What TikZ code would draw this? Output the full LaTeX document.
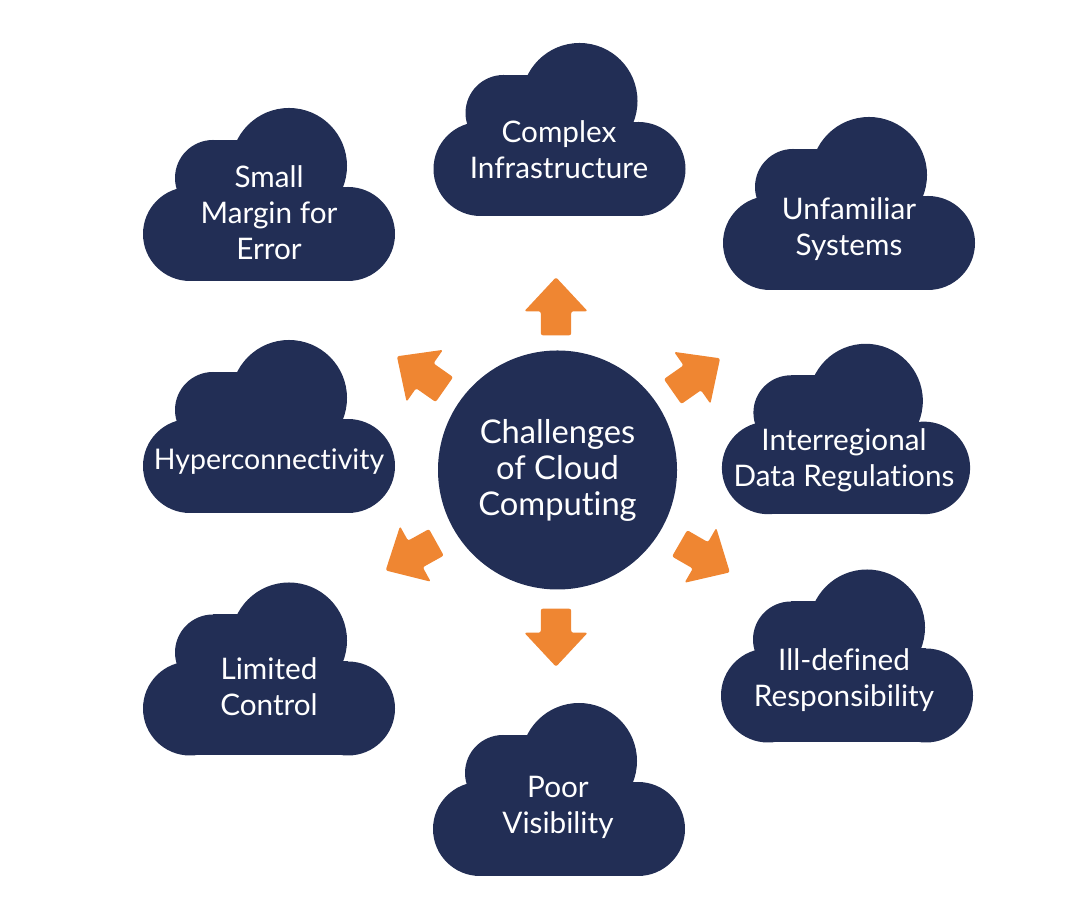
\documentclass[tikz,border=0pt]{standalone}
\usepackage{fontspec}
\setmainfont{Lato}[Ligatures=CommonOff]
\usetikzlibrary{shapes.arrows}
\definecolor{cloudnavy}{HTML}{222E55}
\definecolor{arroworange}{HTML}{EF8632}
\tikzset{
  cloudshape/.pic={
    \fill [cloudnavy] (-0.79,-0.395) circle (0.47);
    \fill [cloudnavy] (0.79,-0.395) circle (0.47);
    \fill [cloudnavy] (0.20,0.285) circle (0.58);
    \fill [cloudnavy] (-0.56,0.165) circle (0.38);
    \fill [cloudnavy] (-0.56,0.165) rectangle (-0.31,0.545);
    \fill [cloudnavy] (-0.79,-0.865) rectangle (0.79,0.075);
  },
  cloudtext/.style={text=white, align=center, inner sep=0pt, font=\fontsize{8.45}{10.24}\selectfont},
  hubnode/.style={circle, fill=cloudnavy, minimum size=2.39cm, inner sep=0pt, text=white, align=center, font=\fontsize{9.3}{10.24}\selectfont},
  blockarrow/.style={single arrow, fill=arroworange, inner xsep=0pt, inner ysep=0.145cm, minimum height=0.58cm, anchor=tail,
    single arrow head extend=0.165cm, single arrow tip angle=86, rounded corners=0.6pt},
}
\begin{document}
\begin{tikzpicture}
    \useasboundingbox (0,0) rectangle (10.8,9.01);

    \pic (cloudsmall) at (2.69,7.065) {cloudshape};
    \pic (cloudcomplex) at (5.595,7.715) {cloudshape};
    \pic (cloudunfamiliar) at (8.49,6.975) {cloudshape};
    \pic[scale=0.985] (cloudregions) at (8.46,4.72) {cloudshape};
    \pic (cloudhyper) at (2.69,4.745) {cloudshape};
    \pic (cloudill) at (8.47,2.45) {cloudshape};
    \pic (cloudlimited) at (2.69,2.32) {cloudshape};
    \pic (cloudpoor) at (5.59,1.115) {cloudshape};

    \node [cloudtext] (small) at (2.69,6.88) {Small\\Margin for\\Error};
    \node [cloudtext] (complex) at (5.59,7.515) {Complex\\Infrastructure};
    \node [cloudtext] (unfamiliar) at (8.49,6.72) {Unfamiliar\\Systems};
    \node [cloudtext] (regions) at (8.44,4.41) {Interregional\\Data Regulations};
    \node [cloudtext, font=\fontsize{8.1}{10.24}\selectfont] (hyper) at (2.69,4.39) {Hyperconnectivity};
    \node [cloudtext] (ill) at (8.44,2.21) {Ill-defined\\Responsibility};
    \node [cloudtext] (limited) at (2.69,2.14) {Limited\\Control};
    \node [cloudtext] (poor) at (5.58,0.94) {Poor\\Visibility};

    \node [hubnode] (hub) at (5.575,4.31) {Challenges\\of Cloud\\Computing};

    \node [blockarrow, rotate=90] (arrowup) at (5.56,5.65) {};
    \node [blockarrow, rotate=-90] (arrowdown) at (5.56,2.93) {};
    \node [blockarrow, rotate=35] (arrowupright) at (6.72,5.09) {};
    \node [blockarrow, rotate=145] (arrowupleft) at (4.45,5.11) {};
    \node [blockarrow, rotate=209] (arrowdownleft) at (4.37,3.59) {};
    \node [blockarrow, rotate=-30] (arrowdownright) at (6.79,3.58) {};
\end{tikzpicture}
\end{document}
